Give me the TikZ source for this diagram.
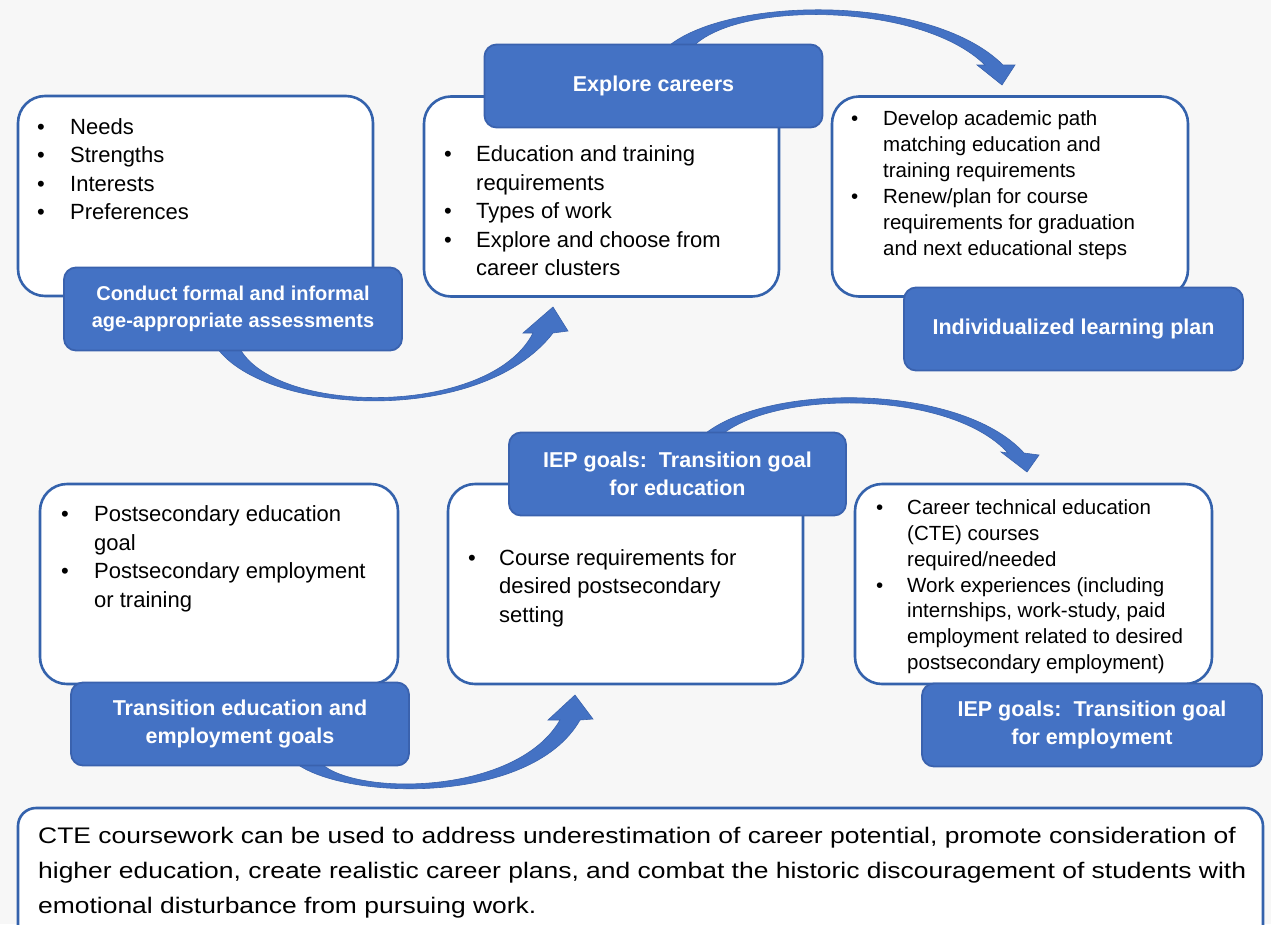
\documentclass[tikz,border=0pt]{standalone}
\usepackage{fontspec}
\setmainfont{Liberation Sans}
\newfontfamily\notefont[FakeStretch=1.175]{Liberation Sans}
\usetikzlibrary{calc}

\definecolor{tagblue}{HTML}{4472C4}
\definecolor{tagedge}{HTML}{3A62AE}
\definecolor{boxedge}{HTML}{3462AC}
\definecolor{arrowblue}{HTML}{4472C4}
\definecolor{arrowedge}{HTML}{3A63AD}
\definecolor{pagegray}{HTML}{F7F7F7}

\begin{document}
\begin{tikzpicture}[x=1pt,y=-1pt,
  infobox/.style={draw=boxedge,line width=2.6pt,fill=white,rounded corners=27pt,
    minimum width=355pt,minimum height=200pt,inner sep=0pt},
  tagbox/.style={draw=tagedge,line width=1.8pt,fill=tagblue,rounded corners=12pt,
    minimum width=338pt,minimum height=83pt,inner sep=0pt,text=white,align=center,
    font=\bfseries\fontsize{21.5}{28}\selectfont},
  itemtext/.style={anchor=north west,inner sep=0pt,font=\fontsize{22}{28.5}\selectfont},
  smallitems/.style={itemtext,font=\fontsize{20.5}{25.9}\selectfont},
  bigarrow/.style={fill=arrowblue,draw=arrowedge,line width=0.6pt},
  notebox/.style={draw=boxedge,line width=2.6pt,fill=white,rounded corners=18pt,
    minimum width=1245pt,minimum height=135pt,inner sep=0pt}]
\useasboundingbox (0,0) rectangle (1271,924);
\fill[pagegray] (0,0) rectangle (1271,924);
% Drawing curved arrows
\coordinate (tip1) at (553,307);
\coordinate (tip2) at (1002,85);
\coordinate (tip3) at (575,695);
\coordinate (tip4) at (1027,472);
\fill[bigarrow] (215,345) .. controls (260,415) and (480,428) .. (553,333) -- (568,331) -- (tip1)
  -- (523,333) -- (533,333) .. controls (490,418) and (270,416) .. (238,345) -- cycle;
\fill[bigarrow] (664,50) .. controls (720,-4) and (930,-8) .. (1003,65) -- (1015,65) -- (tip2)
  -- (977,65) -- (985,65) .. controls (920,1) and (730,0) .. (690,50) -- cycle;
\fill[bigarrow] (292,760) .. controls (335,800) and (530,808) .. (580,720) -- (593,719) -- (tip3)
  -- (548,720) -- (560,720) .. controls (515,798) and (345,796) .. (318,760) -- cycle;
\fill[bigarrow] (700,438) .. controls (760,382) and (960,382) .. (1024,453) -- (1039,455) -- (tip4)
  -- (1001,452) -- (1008,453) .. controls (950,389) and (770,389) .. (718,438) -- cycle;
% Drawing boxes and their tags
\node[infobox] (boxA) at (195.5,196) {};
\node[tagbox,font=\bfseries\fontsize{20}{27.5}\selectfont] (tagA) at (233,309)
  {Conduct formal and informal\\age-appropriate assessments};
\node[infobox] (boxB) at (601.5,196.5) {};
\node[tagbox] (tagB) at (653.5,86) {Explore careers};
\node[infobox,minimum width=356pt] (boxC) at (1010,196.5) {};
\node[tagbox,minimum width=339pt] (tagC) at (1073.5,329) {Individualized learning plan};
\node[infobox,minimum width=358pt] (boxD) at (219,584) {};
\node[tagbox] (tagD) at (240,724) {Transition education and\\employment goals};
\node[infobox] (boxE) at (625.5,584) {};
\node[tagbox,minimum width=337pt] (tagE) at (677.5,474) {IEP goals:\ \ Transition goal\\for education};
\node[infobox,minimum width=357pt] (boxF) at (1033.5,584) {};
\node[tagbox,minimum width=340pt] (tagF) at (1092,725) {IEP goals:\ \ Transition goal\\for employment};
% Done with boxes; drawing bullet lists
\node[itemtext] (txtA) at (37,114) {\begin{tabular}{@{}p{33pt}@{}l@{}}
  \textbullet & Needs\\
  \textbullet & Strengths\\
  \textbullet & Interests\\
  \textbullet & Preferences
\end{tabular}};
\node[itemtext] (txtB) at (444,141.8) {\begin{tabular}{@{}p{32pt}@{}l@{}}
  \textbullet & Education and training\\
  & requirements\\
  \textbullet & Types of work\\
  \textbullet & Explore and choose from\\
  & career clusters
\end{tabular}};
\node[smallitems] (txtC) at (851,107.6) {\begin{tabular}{@{}p{32pt}@{}l@{}}
  \textbullet & Develop academic path\\
  & matching education and\\
  & training requirements\\
  \textbullet & Renew/plan for course\\
  & requirements for graduation\\
  & and next educational steps
\end{tabular}};
\node[itemtext] (txtD) at (61,501.8) {\begin{tabular}{@{}p{33pt}@{}l@{}}
  \textbullet & Postsecondary education\\
  & goal\\
  \textbullet & Postsecondary employment\\
  & or training
\end{tabular}};
\node[itemtext] (txtE) at (468,545.2) {\begin{tabular}{@{}p{31pt}@{}l@{}}
  \textbullet & Course requirements for\\
  & desired postsecondary\\
  & setting
\end{tabular}};
\node[smallitems] (txtF) at (876,496) {\begin{tabular}{@{}p{31pt}@{}l@{}}
  \textbullet & Career technical education\\
  & (CTE) courses\\
  & required/needed\\
  \textbullet & Work experiences (including\\
  & internships, work-study, paid\\
  & employment related to desired\\
  & postsecondary employment)
\end{tabular}};
% Drawing the note at the bottom
\node[notebox] (note) at (640.5,875.5) {};
\node[anchor=north west,inner sep=0pt,font=\notefont\fontsize{22.5}{35}\selectfont] (noteText) at (38,818.5)
  {\begin{tabular}{@{}l@{}}
  CTE coursework can be used to address underestimation of career potential, promote consideration of\\
  higher education, create realistic career plans, and combat the historic discouragement of students with\\
  emotional disturbance from pursuing work.
\end{tabular}};
\end{tikzpicture}
\end{document}
